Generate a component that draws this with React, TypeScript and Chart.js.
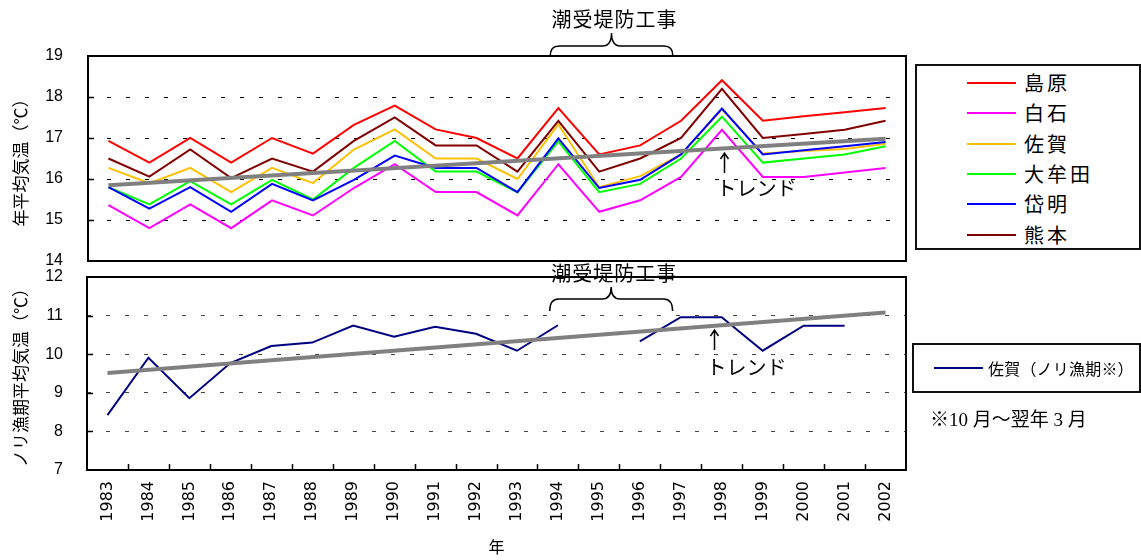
import React, { useEffect, useRef } from 'react';
import { Chart, registerables } from 'chart.js';

Chart.register(...registerables);

// ---- data -------------------------------------------------------------
const years = [
  '1983', '1984', '1985', '1986', '1987', '1988', '1989', '1990', '1991', '1992',
  '1993', '1994', '1995', '1996', '1997', '1998', '1999', '2000', '2001', '2002',
];

// 年平均気温 (°C)
const shimabara = [16.93, 16.4, 17.0, 16.4, 17.0, 16.62, 17.32, 17.79, 17.21, 17.0, 16.5, 17.73, 16.6, 16.82, 17.42, 18.41, 17.42, 17.53, 17.63, 17.73];
const shiraishi = [15.36, 14.8, 15.38, 14.8, 15.48, 15.11, 15.78, 16.36, 15.68, 15.68, 15.11, 16.36, 15.2, 15.48, 16.05, 17.2, 16.05, 16.05, 16.16, 16.27];
const saga = [16.27, 15.9, 16.27, 15.68, 16.27, 15.9, 16.72, 17.21, 16.5, 16.5, 16.0, 17.33, 15.8, 16.07, 16.6, 17.7, 16.62, 16.68, 16.73, 16.86];
const omuta = [15.8, 15.38, 15.95, 15.38, 15.98, 15.5, 16.27, 16.93, 16.18, 16.18, 15.68, 16.92, 15.68, 15.88, 16.5, 17.52, 16.4, 16.5, 16.6, 16.8];
const taimei = [15.8, 15.28, 15.8, 15.2, 15.88, 15.48, 15.98, 16.57, 16.27, 16.27, 15.68, 16.99, 15.78, 15.98, 16.6, 17.72, 16.6, 16.7, 16.8, 16.9];
const kumamoto = [16.5, 16.06, 16.72, 16.02, 16.5, 16.18, 16.93, 17.5, 16.82, 16.82, 16.18, 17.42, 16.18, 16.5, 17.0, 18.2, 17.0, 17.1, 17.2, 17.42];
const annualTrend = [15.85, 16.98]; // first year, last year

// 佐賀 ノリ漁期 (10月〜翌年3月) 平均気温 (°C)
const sagaNori = [8.42, 9.91, 8.86, 9.77, 10.21, 10.3, 10.74, 10.45, 10.71, 10.53, 10.09, 10.75, null, 10.33, 10.96, 10.96, 10.09, 10.74, 10.74, null];
const noriTrend = [9.51, 11.08]; // first year, last year

const stations = [
  { name: '島原', values: shimabara, color: '#FF0000' },
  { name: '白石', values: shiraishi, color: '#FF00FF' },
  { name: '佐賀', values: saga, color: '#FFC000' },
  { name: '大牟田', values: omuta, color: '#00FF00' },
  { name: '岱明', values: taimei, color: '#0000FF' },
  { name: '熊本', values: kumamoto, color: '#800000' },
];

const worksLabel = '潮受堤防工事';
const trendLabel = 'トレンド';

const JP = '"Noto Sans CJK JP", "Noto Sans", sans-serif';

// ---- plugins ----------------------------------------------------------
function frameAndTicks(xTicks: boolean) {
  return {
    id: 'frameAndTicks',
    afterDraw(chart: any) {
      const { ctx, chartArea: a, scales } = chart;
      ctx.save();
      ctx.strokeStyle = '#000';
      ctx.lineWidth = 1.5;
      ctx.setLineDash([]);
      ctx.beginPath();
      const y = scales.y;
      y.ticks.forEach((t: any) => {
        if (t.value <= y.min || t.value >= y.max) return;
        const py = Math.round(y.getPixelForValue(t.value)) + 0.5;
        ctx.moveTo(a.left, py);
        ctx.lineTo(a.left + 6, py);
      });
      if (xTicks) {
        const x = scales.x;
        for (let i = 0; i < years.length - 1; i++) {
          const px = Math.round(x.getPixelForValue(i + 0.5)) + 0.5;
          ctx.moveTo(px, a.bottom);
          ctx.lineTo(px, a.bottom - 6);
        }
      }
      ctx.stroke();
      ctx.lineWidth = 2;
      ctx.strokeRect(a.left, a.top, a.right - a.left, a.bottom - a.top);
      ctx.restore();
    },
  };
}

type NoteOpts = {
  fromIdx: number;
  toIdx: number;
  textY: number;
  tipY: number;
  armY: number;
  endY: number;
  arrowIdx: number;
  arrowTop: number;
  arrowBottom: number;
  trendTextY: number;
};

function worksNote(o: NoteOpts) {
  return {
    id: 'worksNote',
    afterDraw(chart: any) {
      const { ctx } = chart;
      const x = chart.scales.x;
      const xL = x.getPixelForValue(o.fromIdx);
      const xR = x.getPixelForValue(o.toIdx);
      const xM = (xL + xR) / 2;
      const r = 9;
      ctx.save();
      ctx.setLineDash([]);
      ctx.strokeStyle = '#000';
      ctx.lineWidth = 1.5;
      ctx.beginPath();
      ctx.moveTo(xL, o.endY);
      ctx.quadraticCurveTo(xL, o.armY, xL + r, o.armY);
      ctx.lineTo(xM - r, o.armY);
      ctx.quadraticCurveTo(xM, o.armY, xM, o.tipY);
      ctx.quadraticCurveTo(xM, o.armY, xM + r, o.armY);
      ctx.lineTo(xR - r, o.armY);
      ctx.quadraticCurveTo(xR, o.armY, xR, o.endY);
      ctx.stroke();

      ctx.fillStyle = '#000';
      ctx.font = `20px ${JP}`;
      ctx.textBaseline = 'middle';
      ctx.textAlign = 'center';
      (ctx as any).letterSpacing = '1px';
      ctx.fillText(worksLabel, xM + 3, o.textY);
      (ctx as any).letterSpacing = '0px';

      // trend arrow
      const ax = Math.round(x.getPixelForValue(o.arrowIdx)) + 0.5;
      ctx.lineWidth = 1.5;
      ctx.beginPath();
      ctx.moveTo(ax, o.arrowBottom);
      ctx.lineTo(ax, o.arrowTop);
      ctx.moveTo(ax - 4, o.arrowTop + 6);
      ctx.lineTo(ax, o.arrowTop);
      ctx.lineTo(ax + 4, o.arrowTop + 6);
      ctx.stroke();
      ctx.textAlign = 'left';
      ctx.fillText(trendLabel, ax - 8, o.trendTextY);
      ctx.restore();
    },
  };
}

const gridColor = (edgeA: number, edgeB: number, color: string) => (c: any) =>
  c.tick && (c.tick.value === edgeA || c.tick.value === edgeB) ? 'rgba(0,0,0,0)' : color;

// ---- component --------------------------------------------------------
export default function App() {
  const topRef = useRef<HTMLCanvasElement>(null);
  const botRef = useRef<HTMLCanvasElement>(null);

  useEffect(() => {
    const top = new Chart(topRef.current as HTMLCanvasElement, {
      type: 'line',
      data: {
        labels: years,
        datasets: [
          ...stations.map((s, i) => ({
            label: s.name,
            data: s.values,
            borderColor: s.color,
            backgroundColor: s.color,
            borderWidth: 2,
            pointRadius: 0,
            tension: 0,
            order: stations.length - i,
          })),
          {
            label: trendLabel,
            data: [
              { x: years[0], y: annualTrend[0] },
              { x: years[years.length - 1], y: annualTrend[1] },
            ],
            borderColor: '#808080',
            backgroundColor: '#808080',
            borderWidth: 4,
            pointRadius: 0,
            order: 0,
          },
        ] as any,
      },
      options: {
        responsive: false,
        animation: false,
        devicePixelRatio: 1,
        layout: { padding: { left: 0, top: 56, right: 235, bottom: 299 } },
        plugins: { legend: { display: false }, tooltip: { enabled: false } },
        scales: {
          x: { type: 'category', offset: true, display: false },
          y: {
            min: 14,
            max: 19,
            afterFit: (s: any) => { s.width = 88; },
            ticks: { stepSize: 1, padding: 25, color: '#000', font: { family: '"Liberation Sans", Arial, sans-serif', size: 16 } },
            grid: { drawTicks: false, lineWidth: 1, color: gridColor(14, 19, '#000') },
            border: { display: false, dash: [4, 15] },
            title: {
              display: true,
              text: '年平均気温（℃）',
              color: '#000',
              font: { family: JP, size: 17 },
              padding: { top: 10, bottom: 0 },
            },
          },
        },
      } as any,
      plugins: [
        frameAndTicks(false),
        worksNote({ fromIdx: 10.8, toIdx: 13.8, textY: 19, tipY: 33, armY: 46, endY: 56, arrowIdx: 15.05, arrowTop: 153, arrowBottom: 173, trendTextY: 188 }),
      ],
    });

    const bot = new Chart(botRef.current as HTMLCanvasElement, {
      type: 'line',
      data: {
        labels: years,
        datasets: [
          {
            label: '佐賀（ノリ漁期※）',
            data: sagaNori,
            borderColor: '#000080',
            backgroundColor: '#000080',
            borderWidth: 2,
            pointRadius: 0,
            tension: 0,
            spanGaps: false,
            order: 1,
          },
          {
            label: trendLabel,
            data: [
              { x: years[0], y: noriTrend[0] },
              { x: years[years.length - 1], y: noriTrend[1] },
            ],
            borderColor: '#808080',
            backgroundColor: '#808080',
            borderWidth: 4,
            pointRadius: 0,
            order: 0,
          },
        ] as any,
      },
      options: {
        responsive: false,
        animation: false,
        devicePixelRatio: 1,
        layout: { padding: { left: 0, top: 277, right: 235, bottom: 0 } },
        plugins: { legend: { display: false }, tooltip: { enabled: false } },
        scales: {
          x: {
            type: 'category',
            offset: true,
            afterFit: (s: any) => { s.height = 90; },
            grid: { display: false, drawTicks: false },
            border: { display: false },
            ticks: {
              autoSkip: false,
              minRotation: 90,
              maxRotation: 90,
              padding: 11,
              color: '#000',
              font: { family: '"DejaVu Sans", sans-serif', size: 16 },
            },
            title: {
              display: true,
              text: '年',
              color: '#000',
              font: { family: JP, size: 16 },
              padding: { top: 0, bottom: 3 },
            },
          },
          y: {
            min: 7,
            max: 12,
            afterFit: (s: any) => { s.width = 87; },
            ticks: { stepSize: 1, padding: 24, color: '#000', font: { family: '"Liberation Sans", Arial, sans-serif', size: 16 } },
            grid: { drawTicks: false, lineWidth: 1, color: gridColor(7, 12, '#444') },
            border: { display: false, dash: [4, 15] },
            title: {
              display: true,
              text: 'ノリ漁期平均気温（℃）',
              color: '#000',
              font: { family: JP, size: 17 },
              padding: { top: 10, bottom: 0 },
            },
          },
        },
      } as any,
      plugins: [
        frameAndTicks(true),
        worksNote({ fromIdx: 10.8, toIdx: 13.8, textY: 273, tipY: 287, armY: 299, endY: 311, arrowIdx: 14.8, arrowTop: 330, arrowBottom: 350, trendTextY: 367 }),
      ],
    });

    return () => {
      top.destroy();
      bot.destroy();
    };
  }, []);

  return (
    <div style={{ position: 'absolute', left: 0, top: 0, width: 1141, height: 560, background: '#fff', overflow: 'hidden' }}>
      <canvas ref={topRef} width={1141} height={560} style={{ position: 'absolute', left: 0, top: 0, display: 'block' }} />
      <canvas ref={botRef} width={1141} height={560} style={{ position: 'absolute', left: 0, top: 0, display: 'block' }} />

      {/* station legend */}
      <div style={{ position: 'absolute', left: 915, top: 64, width: 226, height: 186, border: '2px solid #111', boxSizing: 'border-box', background: '#fff' }}>
        {stations.map((s, i) => (
          <div
            key={s.name}
            style={{ position: 'absolute', left: 50, top: 82.7 + i * 30.4 - 64 - 2 - 15, height: 30, display: 'flex', alignItems: 'center' }}
          >
            <span style={{ display: 'inline-block', width: 49, height: 2, background: s.color }} />
            <span style={{ marginLeft: 8, fontFamily: JP, fontSize: 20, letterSpacing: 3, lineHeight: '30px', color: '#000', whiteSpace: 'nowrap' }}>{s.name}</span>
          </div>
        ))}
      </div>

      {/* nori season legend */}
      <div style={{ position: 'absolute', left: 912, top: 343, width: 229, height: 50, border: '2px solid #111', boxSizing: 'border-box', background: '#fff' }}>
        <div style={{ position: 'absolute', left: 20, top: 0, height: 46, display: 'flex', alignItems: 'center' }}>
          <span style={{ display: 'inline-block', width: 49, height: 2, background: '#000080' }} />
          <span style={{ marginLeft: 5, fontFamily: JP, fontSize: 16, letterSpacing: 0.2, color: '#000', whiteSpace: 'nowrap' }}>佐賀（ノリ漁期※）</span>
        </div>
      </div>

      <div style={{ position: 'absolute', left: 930, top: 407, fontFamily: '"Liberation Serif", "Noto Sans CJK JP", serif', fontSize: 19, lineHeight: '26px', color: '#000', whiteSpace: 'nowrap' }}>
        ※10 月～翌年 3 月
      </div>
    </div>
  );
}
